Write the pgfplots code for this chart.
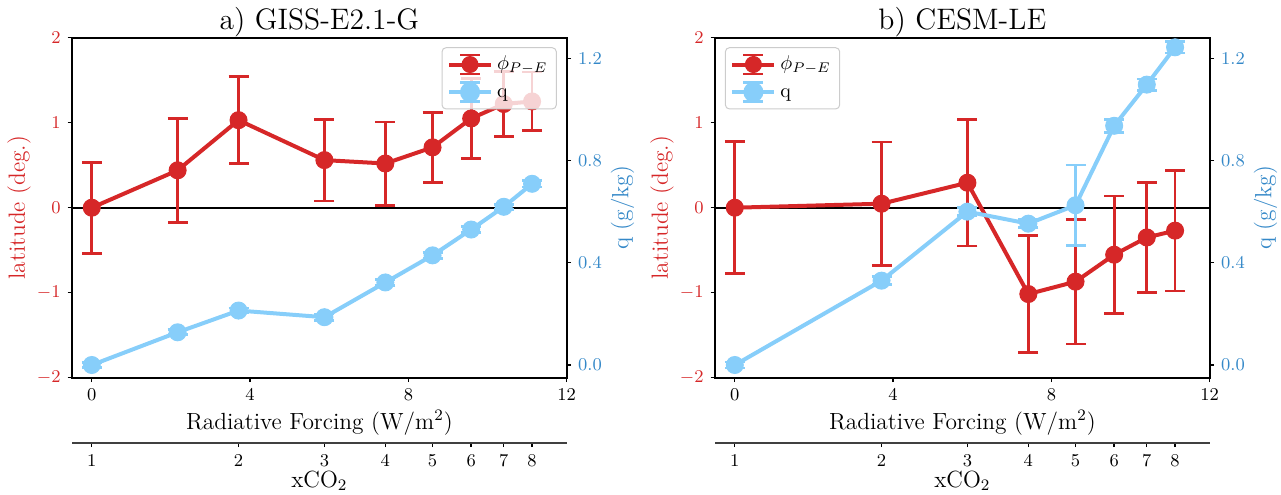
\documentclass[border=0pt]{standalone}
\usepackage{pgfplots}
\pgfplotsset{compat=1.18}
\usepackage{pgfplotstable}
\definecolor{phiRed}{HTML}{D62728}
\definecolor{qBlue}{HTML}{87CEFA}
\definecolor{qLab}{RGB}{52,136,200}

% GISS-E2.1-G
\pgfplotstableread{
x y e
0 0.00 0.535
2.169 0.44 0.61
3.708 1.03 0.51
5.878 0.56 0.48
7.417 0.52 0.49
8.610 0.71 0.41
9.586 1.05 0.47
10.410 1.22 0.385
11.125 1.25 0.345
}\gissphi
\pgfplotstableread{
x y e
0 0.000 0.01
2.169 0.128 0.01
3.708 0.213 0.01
5.878 0.187 0.012
7.417 0.323 0.012
8.610 0.429 0.012
9.586 0.530 0.012
10.410 0.619 0.01
11.125 0.709 0.012
}\gissq
% CESM-LE
\pgfplotstableread{
x y e
0 0.000 0.775
3.708 0.047 0.725
5.878 0.294 0.745
7.417 -1.016 0.69
8.610 -0.870 0.735
9.586 -0.553 0.69
10.410 -0.350 0.645
11.125 -0.270 0.71
}\cesmphi
\pgfplotstableread{
x y e
0 0.000 0.012
3.708 0.330 0.015
5.878 0.600 0.015
7.417 0.553 0.015
8.610 0.625 0.157
9.586 0.936 0.025
10.410 1.097 0.022
11.125 1.243 0.022
}\cesmq

\pgfplotsset{
  panel/.style={scale only axis, width=247.35pt, height=170pt, xmin=-0.5, xmax=12,
    tick align=outside, major tick length=2.2pt,
    axis line style={-, line width=0.85pt},
    every tick/.style={black, line width=0.7pt},
    tick label style={font=\fontsize{9}{10}\selectfont},
    label style={font=\fontsize{11.7}{14}\selectfont}},
  mainax/.style={panel, ymin=-2, ymax=2, ytick={-2,-1,0,1,2}, xtick={0,4,8,12},
    xtick pos=bottom, ytick pos=left, yticklabel style={color=phiRed},
    ylabel={latitude (deg.)},
    ylabel style={color=phiRed, at={(axis description cs:-0.107,0.5)}, anchor=center},
    xlabel={Radiative Forcing (W/m$^2$)},
    xlabel style={at={(axis description cs:0.5,-0.133)}, anchor=center},
    title style={font=\fontsize{14.8}{17}\selectfont, at={(axis description cs:0.5,1)}, anchor=base, yshift=-1.8pt}},
  qax/.style={panel, ymin=-0.0497, ymax=1.2806, axis y line*=right, axis x line=none,
    ytick={0,0.4,0.8,1.2},
    yticklabel style={color=qLab, /pgf/number format/.cd, fixed, fixed zerofill, precision=1},
    ylabel={q (g/kg)},
    ylabel style={color=qLab, at={(axis description cs:1.113,0.5)}, anchor=center},
    legend style={font=\fontsize{10}{12}\selectfont, draw=black!20, line width=0.5pt,
      rounded corners=2pt, fill=white, fill opacity=0.8, text opacity=1, draw opacity=1,
      inner xsep=2.5pt, inner ysep=1.5pt,
      nodes={inner sep=2pt, text height=7.5pt, text depth=2.3pt}},
    legend cell align=left,
    /tikz/every even column/.append style={column sep=5pt}},
  co2ax/.style={panel, height=1pt, ymin=0, ymax=1, axis x line*=bottom, axis y line=none,
    axis line style={-, line width=0.85pt, black!75},
    xtick={0,3.708,5.878,7.417,8.610,9.586,10.410,11.125},
    xticklabels={1,2,3,4,5,6,7,8},
    xlabel={xCO$_2$},
    xlabel style={at={(axis description cs:0.5,0)}, anchor=center, yshift=-19pt}},
  errleg/.style={legend image code/.code={
    \draw[line width=2pt, draw opacity=1] (0pt,0pt) -- (21pt,0pt);
    \draw[line width=1.35pt, draw opacity=1] (10.5pt,-4.75pt) -- (10.5pt,4.75pt)
      (5.5pt,4.75pt) -- (15.5pt,4.75pt) (5.5pt,-4.75pt) -- (15.5pt,-4.75pt);
    \fill[fill opacity=1] (10.5pt,0pt) circle (4pt);}},
  phistyle/.style={phiRed, line width=2pt, mark=*, mark size=4.25pt,
    mark options={solid, fill=phiRed, draw=phiRed, line width=0.5pt},
    error bars/.cd, y dir=both, y explicit,
    error bar style={line width=1.35pt, phiRed},
    error mark options={rotate=90, mark size=5pt, line width=1.35pt, phiRed}},
  qstyle/.style={qBlue, line width=2pt, mark=*, mark size=4.25pt,
    mark options={solid, fill=qBlue, draw=qBlue, line width=0.5pt},
    error bars/.cd, y dir=both, y explicit,
    error bar style={line width=1.35pt, qBlue},
    error mark options={rotate=90, mark size=5pt, line width=1.35pt, qBlue}},
}

\begin{document}
\begin{tikzpicture}
\useasboundingbox (0,0) rectangle (640.5pt,247pt);
% ===== Panel a =====
\begin{axis}[mainax, at={(36pt,58.15pt)}, anchor=south west, title={a) GISS-E2.1-G}]
  \addplot[black, line width=1pt, forget plot] coordinates {(-0.5,0) (12,0)};
  \addplot[phistyle] table[x=x, y=y, y error=e] {\gissphi};
\end{axis}
\begin{axis}[qax, at={(36pt,58.15pt)}, anchor=south west,
  legend style={at={(0.98,0.972)}, anchor=north east}]
  \addlegendimage{phiRed, errleg}
  \addlegendentry{$\phi_{P-E}$}
  \addplot[errleg, qstyle] table[x=x, y=y, y error=e] {\gissq};
  \addlegendentry{q}
\end{axis}
\begin{axis}[co2ax, at={(36pt,25.65pt)}, anchor=south west]
  \addplot[draw=none, forget plot] coordinates {(0,0.5)};
\end{axis}
% ===== Panel b =====
\begin{axis}[mainax, at={(357.5pt,58.15pt)}, anchor=south west, title={b) CESM-LE}]
  \addplot[black, line width=1pt, forget plot] coordinates {(-0.5,0) (12,0)};
  \addplot[phistyle] table[x=x, y=y, y error=e] {\cesmphi};
\end{axis}
\begin{axis}[qax, at={(357.5pt,58.15pt)}, anchor=south west,
  legend style={at={(0.02,0.972)}, anchor=north west}]
  \addlegendimage{phiRed, errleg}
  \addlegendentry{$\phi_{P-E}$}
  \addplot[errleg, qstyle] table[x=x, y=y, y error=e] {\cesmq};
  \addlegendentry{q}
\end{axis}
\begin{axis}[co2ax, at={(357.5pt,25.65pt)}, anchor=south west]
  \addplot[draw=none, forget plot] coordinates {(0,0.5)};
\end{axis}
\end{tikzpicture}
\end{document}
